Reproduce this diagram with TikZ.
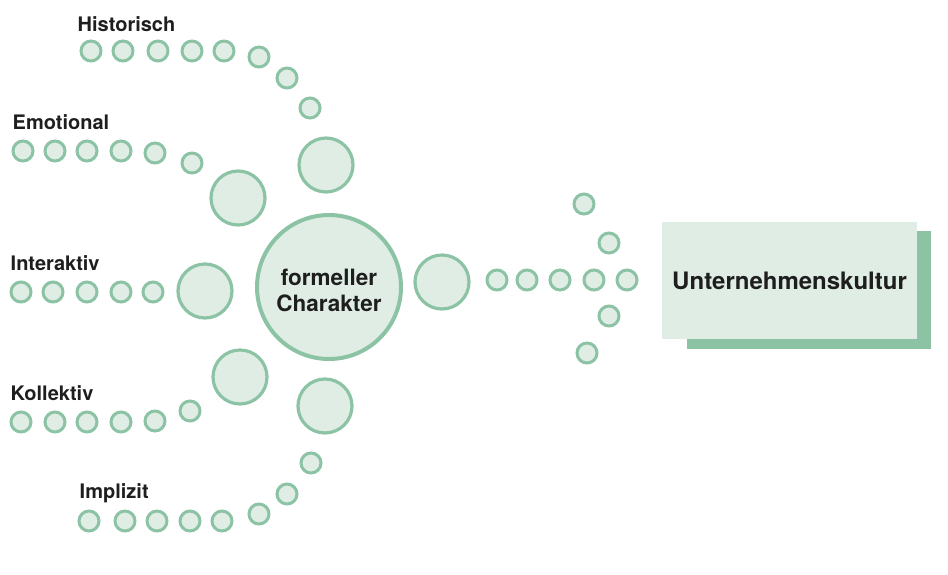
\documentclass[tikz,border=0pt]{standalone}
\usepackage{fontspec}
\setmainfont{TeX Gyre Heros}
\begin{document}
\definecolor{ringgreen}{HTML}{8CC3A5}
\definecolor{softgreen}{HTML}{DFEDE5}
\definecolor{inkdark}{HTML}{1E1E1E}
\begin{tikzpicture}[x=1pt,y=-1pt,
  dot/.style={circle,draw=ringgreen,fill=softgreen,line width=3pt,minimum size=20pt,inner sep=0pt},
  bigdot/.style={circle,draw=ringgreen,fill=softgreen,line width=3.2pt,minimum size=54pt,inner sep=0pt},
  hub/.style={circle,draw=ringgreen,fill=softgreen,line width=4pt,minimum size=144pt,inner sep=0pt,
    align=center,text=inkdark,font=\bfseries\fontsize{22.5}{26}\selectfont},
  lbl/.style={anchor=base west,inner sep=0pt,text=inkdark,font=\bfseries\fontsize{20}{22}\selectfont},
  target/.style={fill=softgreen,inner sep=0pt,minimum width=255pt,minimum height=117pt,
    text=inkdark,font=\bfseries\fontsize{24}{26}\selectfont}]
\useasboundingbox (0,0) rectangle (948,574);

% branch labels
\node[lbl] (lHist) at (77.5,31.5) {Historisch};
\node[lbl] (lEmo) at (12.5,129) {Emotional};
\node[lbl] (lInt) at (10.5,270) {Interaktiv};
\node[lbl] (lKol) at (10.5,400) {Kollektiv};
\node[lbl] (lImp) at (79.5,498) {Implizit};

% dotted branches
\foreach \x/\y [count=\i] in {91/51,123/51,158/51,192/51,224/51,259/57,287/78,310/108}
  \node[dot] (hist\i) at (\x,\y) {};
\foreach \x/\y [count=\i] in {23/151,55/151,87/151,121/151,155/153,192/163}
  \node[dot] (emo\i) at (\x,\y) {};
\foreach \x/\y [count=\i] in {21/292,53/292,87/292,121/292,153/292}
  \node[dot] (int\i) at (\x,\y) {};
\foreach \x/\y [count=\i] in {21/422,55/422,87/422,121/422,155/421,190/411}
  \node[dot] (kol\i) at (\x,\y) {};
\foreach \x/\y [count=\i] in {89/521,125/521,157/521,190/521,222/521,259/514,287/494,311/463}
  \node[dot] (imp\i) at (\x,\y) {};

% large circles around the hub
\node[bigdot] (bHist) at (326,165) {};
\node[bigdot] (bEmo) at (238,198) {};
\node[bigdot] (bInt) at (205,291) {};
\node[bigdot] (bKol) at (240,377) {};
\node[bigdot] (bImp) at (325,406) {};
\node[bigdot] (bOut) at (442,282) {};

% hub
\node[hub] (hub) at (329,287) {};
\node[align=center,text=inkdark,font=\bfseries\fontsize{22.5}{26}\selectfont,inner sep=0pt]
  (hubtext) at (329,290) {formeller\\Charakter};

% arrow of dots towards the target
\foreach \x/\y [count=\i] in {497/280,527/280,560/280,594/280,627/280,584/204,609/243,609/316,587/353}
  \node[dot] (arr\i) at (\x,\y) {};

% target box with offset shadow
\fill[ringgreen] (687,231) rectangle (931,349);
\node[target] (kultur) at (789.5,280.5) {Unternehmenskultur};
\end{tikzpicture}
\end{document}
